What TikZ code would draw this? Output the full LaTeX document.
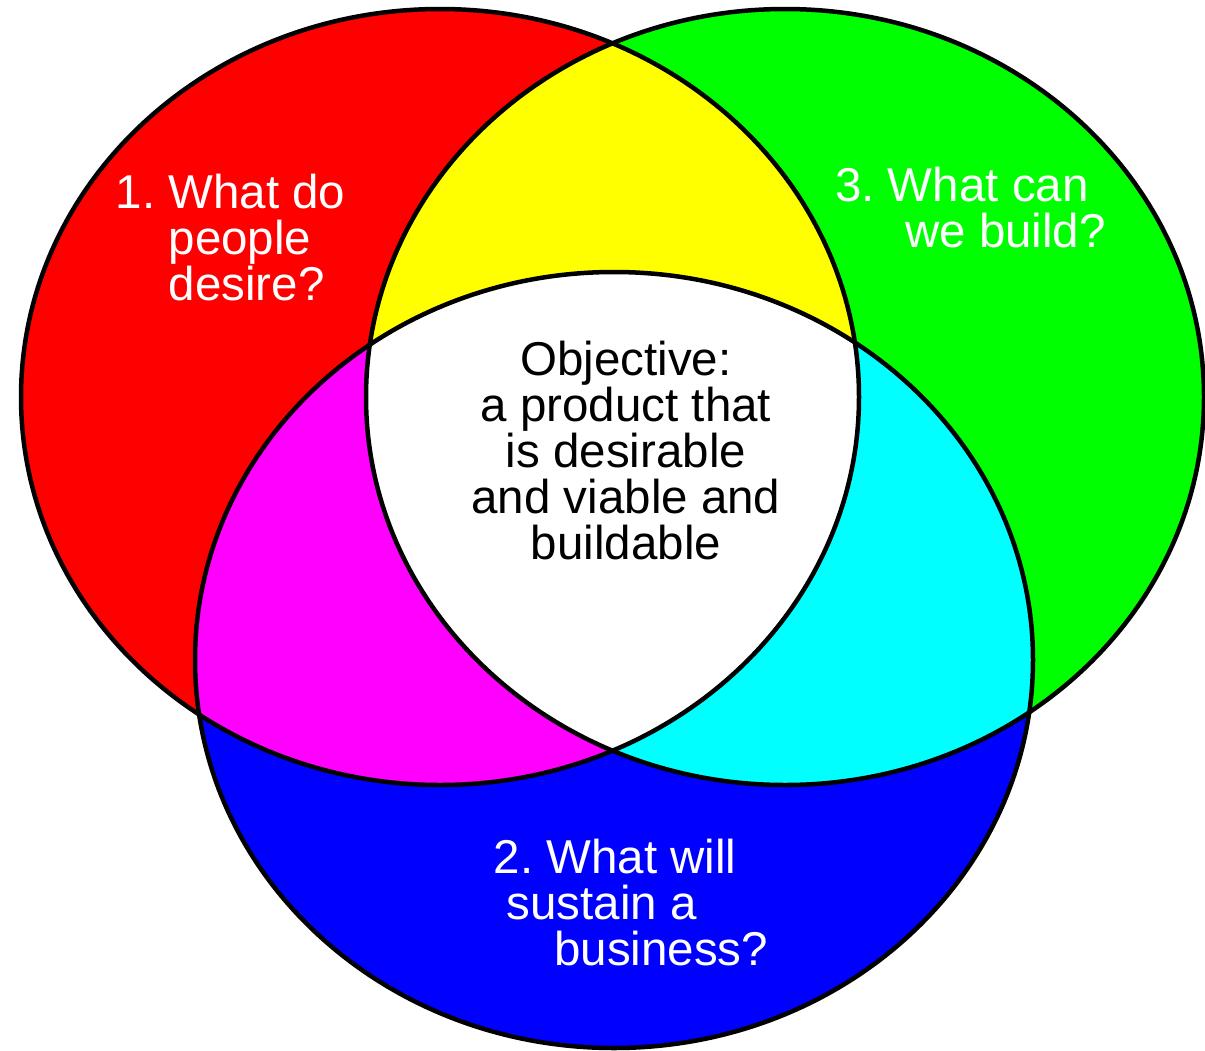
\documentclass[tikz,border=0pt]{standalone}
\usepackage{fontspec}
\setmainfont{Liberation Sans}
\frenchspacing
\definecolor{vred}{RGB}{255,0,0}
\definecolor{vgreen}{RGB}{0,255,0}
\definecolor{vblue}{RGB}{0,0,255}
\definecolor{vyellow}{RGB}{255,255,0}
\definecolor{vmagenta}{RGB}{255,0,255}
\definecolor{vcyan}{RGB}{0,255,255}

\begin{document}
\begin{tikzpicture}[
      x=1pt,y=-1pt,
      myset/.style={
         x radius=419pt,
         y radius=388pt},
      myline/.style={
         draw=black,
         line width=4.5pt},
      mytext/.style={
         inner sep=0pt,
         align=left,
         font=\fontsize{47.5}{46}\selectfont}
      ]
      \useasboundingbox (0,0) rectangle (1205,1050);
      \coordinate (cr) at (440,397);
      \coordinate (cg) at (785,397);
      \coordinate (cb) at (614,660);
      % the three sets
      \fill[vred] (cr) ellipse[myset];
      \fill[vgreen] (cg) ellipse[myset];
      \fill[vblue] (cb) ellipse[myset];
      % overlaps
      \begin{scope}
         \clip (cr) ellipse[myset];
         \fill[vyellow] (cg) ellipse[myset];
         \fill[vmagenta] (cb) ellipse[myset];
      \end{scope}
      \begin{scope}
         \clip (cg) ellipse[myset];
         \fill[vcyan] (cb) ellipse[myset];
         \clip (cr) ellipse[myset];
         \fill[white] (cb) ellipse[myset];
      \end{scope}
      \foreach \c in {cr,cg,cb}
         \draw[myline] (\c) ellipse[myset];
      % texts (base = last line)
      \node[mytext,text=white,anchor=base west] (q1) at (115.5,300)
         {1. What do\\\hspace*{53pt}people\\\hspace*{53pt}desire?};
      \node[mytext,text=white,anchor=base west] (q3) at (835,247)
         {3. What can\\\hspace*{70pt}we build?};
      \node[mytext,text=white,anchor=base west] (q2) at (493.5,965)
         {2. What will\\\hspace*{13pt}sustain a\\\hspace*{60.5pt}business?};
      \node[mytext,align=center,anchor=base] (goal) at (626,559)
         {Objective:\\a product that\\is desirable\\and viable and\\buildable};
\end{tikzpicture}
\end{document}
